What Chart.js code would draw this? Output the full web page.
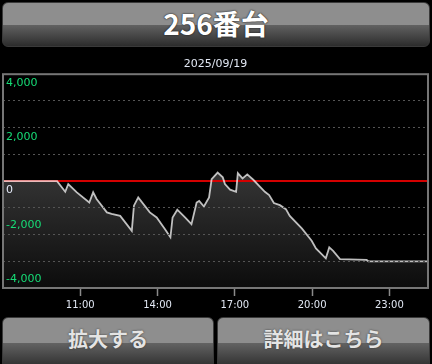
<!DOCTYPE html>
<html>
<head>
    <meta charset="utf-8" />
    <title>256番台</title>
    <script src="https://cdn.jsdelivr.net/npm/chart.js"></script>
    <style>
        html, body { margin: 0; padding: 0; background: #000; }
        body { width: 432px; height: 364px; position: relative; overflow: hidden; font-family: "Noto Sans CJK JP", sans-serif; }
        .btn {
            position: absolute; box-sizing: border-box;
            border: 1px solid #3a3a3a; border-radius: 6px;
            background: linear-gradient(#8e8e8e 0%, #8e8e8e 50%, #626262 51%, #2c2c2c 100%);
            text-align: center; font-weight: bold;
        }
        #head { left: 2px; top: 2px; width: 428px; height: 45px; line-height: 41px; font-size: 28px; color: #fff; text-shadow: 0 0 2px #222, 0 0 1px #222; }
        #zoomBtn { left: 2px; top: 317px; width: 212px; height: 52px; }
        #detailBtn { left: 217px; top: 317px; width: 213px; height: 52px; }
        #zoomBtn, #detailBtn { font-size: 20px; line-height: 42px; color: #e4e4e4; text-shadow: 0 0 2px #333; }
        #wrap { position: absolute; left: 0; top: 50px; width: 432px; height: 266px; }
    </style>
</head>
<body>
    <div id="head" class="btn">256番台</div>
    <div id="wrap"><canvas id="myChart"></canvas></div>
    <div id="zoomBtn" class="btn">拡大する</div>
    <div id="detailBtn" class="btn">詳細はこちら</div>

    <script>
        // 差枚データ（時刻, 値）
        const times = ['08:00', '10:06', '10:25', '10:32', '10:52', '11:21', '11:30', '11:38', '12:02', '12:13',
                       '12:33', '13:00', '13:05', '13:15', '13:42', '13:58', '14:17', '14:30', '14:35', '14:46',
                       '15:04', '15:19', '15:31', '15:37', '15:48', '16:00', '16:06', '16:20', '16:32', '16:37',
                       '16:49', '17:03', '17:07', '17:18', '17:29', '17:43', '18:10', '18:20', '18:31', '18:45',
                       '18:59', '19:08', '19:36', '19:59', '20:09', '20:32', '20:40', '20:49', '21:05', '22:07',
                       '22:11', '24:30'];
        const values = [0, 0, -400, -110, -420, -800, -420, -670, -1170, -1230,
                        -1300, -1860, -920, -610, -1170, -1360, -1790, -2100, -1360, -1070,
                        -1360, -1610, -800, -740, -950, -610, 70, 320, 140, -110,
                        -320, -400, 300, 100, 250, 50, -400, -520, -820, -900,
                        -1050, -1300, -1770, -2230, -2520, -2890, -2480, -2610, -2920, -2950,
                        -3000, -3000];
        const xTickLabels = ['11:00', '14:00', '17:00', '20:00', '23:00'];
        const xMin = '08:00', xMax = '24:30';
        const yMin = -4000, yMax = 4000, yStep = 1000;
        const dateLabel = '2025/09/19';

        function toMin(t) {
            const p = t.split(':');
            return (+p[0]) * 60 + (+p[1]);
        }
        function fmtTime(m) {
            const h = Math.floor(m / 60), mm = m % 60;
            return h + ':' + (mm < 10 ? '0' : '') + mm;
        }

        const points = times.map((t, i) => ({ x: toMin(t), y: values[i] }));

        // 0ラインと枠線
        const framePlugin = {
            id: 'frame',
            beforeDatasetDraw(chart) {
                const a = chart.chartArea, ctx = chart.ctx;
                const y = chart.scales.y.getPixelForValue(0);
                ctx.save();
                ctx.strokeStyle = '#d40000';
                ctx.lineWidth = 2;
                ctx.beginPath();
                ctx.moveTo(a.left, y);
                ctx.lineTo(a.right, y);
                ctx.stroke();
                ctx.restore();
            },
            afterDraw(chart) {
                const a = chart.chartArea, ctx = chart.ctx;
                ctx.save();
                ctx.strokeStyle = '#767676';
                ctx.lineWidth = 2;
                ctx.strokeRect(a.left, a.top, a.right - a.left, a.bottom - a.top);
                ctx.restore();
            }
        };

        const ctx = document.getElementById('myChart').getContext('2d');
        new Chart(ctx, {
            type: 'line',
            data: {
                datasets: [{
                    data: points,
                    borderColor: 'rgba(240,240,240,0.78)',
                    borderWidth: 1.8,
                    pointRadius: 0,
                    tension: 0,
                    fill: 'start',
                    backgroundColor: (c) => {
                        const a = c.chart.chartArea;
                        if (!a) return '#333';
                        const g = c.chart.ctx.createLinearGradient(0, a.top, 0, a.bottom);
                        g.addColorStop(0, '#585858');
                        g.addColorStop(1, '#0c0c0c');
                        return g;
                    }
                }]
            },
            options: {
                responsive: true,
                maintainAspectRatio: false,
                animation: false,
                layout: { padding: { left: 3, right: 4, top: 0, bottom: 0 } },
                plugins: {
                    legend: { display: false },
                    tooltip: { enabled: false },
                    title: {
                        display: true,
                        text: dateLabel,
                        color: '#e2e8f4',
                        font: { family: 'DejaVu Sans', size: 11, weight: 'normal', lineHeight: 1.2 },
                        padding: { top: 8, bottom: 3 }
                    }
                },
                scales: {
                    x: {
                        type: 'linear',
                        min: toMin(xMin),
                        max: toMin(xMax),
                        border: { display: false },
                        grid: { drawOnChartArea: false, drawTicks: true, tickLength: 8, tickColor: '#8a8a8a', tickWidth: 1.5 },
                        afterBuildTicks: (s) => { s.ticks = xTickLabels.map(t => ({ value: toMin(t) })); },
                        afterFit: (s) => { s.height = 28; },
                        ticks: {
                            autoSkip: false,
                            maxRotation: 0,
                            padding: 3,
                            color: '#e2e8f4',
                            font: { family: 'DejaVu Sans', size: 10 },
                            callback: (v) => fmtTime(v)
                        }
                    },
                    y: {
                        min: yMin,
                        max: yMax,
                        border: { display: false, dash: [2, 3] },
                        grid: {
                            z: 1,
                            drawTicks: false,
                            lineWidth: 1,
                            color: (c) => (c.tick.value === 0 || Math.abs(c.tick.value) === yMax) ? 'rgba(0,0,0,0)' : '#555555'
                        },
                        afterFit: (s) => { s.width = 0; },
                        ticks: {
                            z: 1,
                            stepSize: yStep,
                            autoSkip: false,
                            mirror: true,
                            padding: 3,
                            color: (c) => c.tick.value === 0 ? '#e4eaf8' : '#16dc76',
                            font: { family: 'DejaVu Sans', size: 11, lineHeight: '18px' },
                            callback: (v) => {
                                if (v % 2000 !== 0) return '';
                                const s = v.toLocaleString('en-US');
                                return v >= 0 ? ['', s] : [s, ''];
                            }
                        }
                    }
                }
            },
            plugins: [framePlugin]
        });
    </script>
</body>
</html>
